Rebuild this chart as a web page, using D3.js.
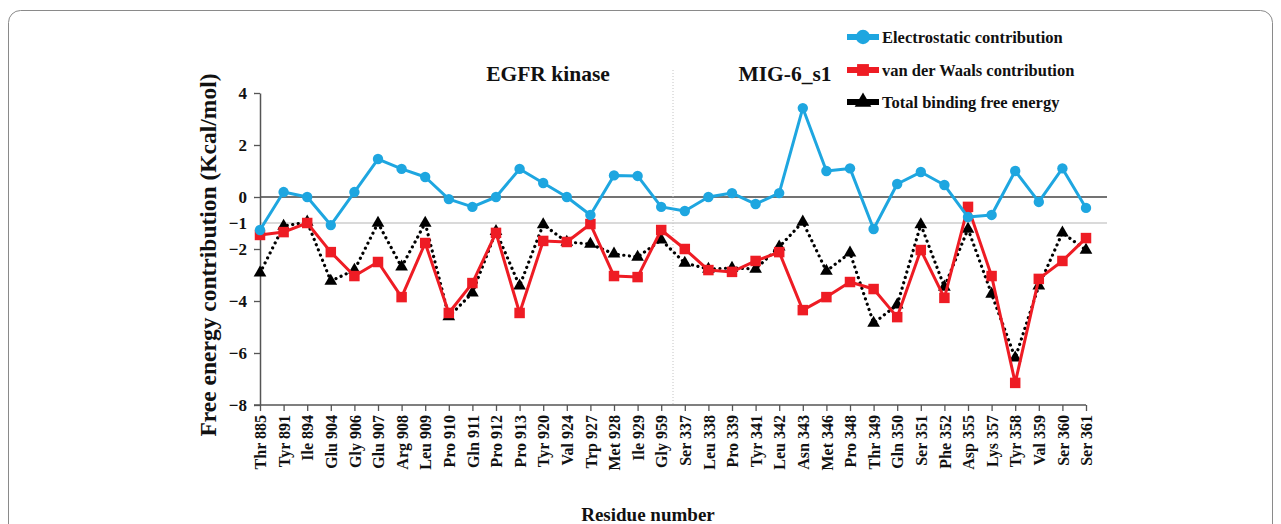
<!DOCTYPE html>
<html>
<head>
<meta charset="utf-8">
<script src="https://cdn.jsdelivr.net/npm/d3@7"></script>
<style>
  html, body { margin: 0; padding: 0; background: #fff; }
  svg { display: block; }
  text { font-family: "Liberation Serif", "Times New Roman", serif; font-weight: bold; fill: #111; }
</style>
</head>
<body>
<svg id="chart" width="1281" height="524"></svg>
<script>
// Residues: EGFR kinase side, then MIG-6_s1 side
const residues = [
  "Thr 885", "Tyr 891", "Ile 894", "Glu 904", "Gly 906", "Glu 907", "Arg 908", "Leu 909", "Pro 910",
  "Gln 911", "Pro 912", "Pro 913", "Tyr 920", "Val 924", "Trp 927", "Met 928", "Ile 929", "Gly 959",
  "Ser 337", "Leu 338", "Pro 339", "Tyr 341", "Leu 342", "Asn 343", "Met 346", "Pro 348", "Thr 349",
  "Gln 350", "Ser 351", "Phe 352", "Asp 355", "Lys 357", "Tyr 358", "Val 359", "Ser 360", "Ser 361"
];

// Per-residue energy terms (kcal/mol)
const electrostatic = [
  -1.27, 0.19, 0.0, -1.08, 0.19, 1.46, 1.08, 0.77, -0.08,
  -0.38, 0.0, 1.08, 0.54, 0.0, -0.69, 0.83, 0.81, -0.38,
  -0.54, 0.0, 0.15, -0.27, 0.15, 3.42, 1.0, 1.1, -1.23,
  0.5, 0.96, 0.46, -0.77, -0.69, 1.0, -0.19, 1.1, -0.42
];
const vanDerWaals = [
  -1.46, -1.35, -1.0, -2.12, -3.04, -2.5, -3.85, -1.77, -4.46,
  -3.31, -1.38, -4.46, -1.69, -1.73, -1.04, -3.04, -3.08, -1.27,
  -2.0, -2.81, -2.88, -2.46, -2.12, -4.35, -3.85, -3.27, -3.54,
  -4.62, -2.04, -3.88, -0.38, -3.04, -7.15, -3.15, -2.46, -1.58
];
const totalBinding = [
  -2.92, -1.12, -0.96, -3.23, -2.81, -1.0, -2.69, -1.0, -4.6,
  -3.69, -1.32, -3.42, -1.06, -1.73, -1.81, -2.19, -2.31, -1.65,
  -2.54, -2.77, -2.73, -2.77, -1.92, -0.96, -2.85, -2.15, -4.85,
  -4.15, -1.06, -3.46, -1.23, -3.73, -6.19, -3.42, -1.38, -2.04
];

const yTicks = [4, 2, 0, -2, -4, -6, -8];
const extraTick = -1;
const groupTitles = ["EGFR kinase", "MIG-6_s1"];
const legendLabels = ["Electrostatic contribution", "van der Waals contribution", "Total binding free energy"];

const BLUE = "#1EA6E0", RED = "#EE1C24", BLACK = "#000";

const svg = d3.select("#chart");

// outer rounded frame
svg.append("rect")
  .attr("x", 8.5).attr("y", 10.5).attr("width", 1264).attr("height", 540)
  .attr("rx", 12).attr("ry", 12)
  .attr("fill", "none").attr("stroke", "#8a8a8a").attr("stroke-width", 1);

const x = d3.scalePoint().domain(residues).range([260, 1086]);
const y = d3.scaleLinear().domain([-8, 4]).range([405, 93]);
const plotRight = 1107;

// reference lines at 0 and -1
svg.append("line")
  .attr("x1", 260).attr("x2", plotRight).attr("y1", y(0)).attr("y2", y(0))
  .attr("stroke", "#444").attr("stroke-width", 1.3);
svg.append("line")
  .attr("x1", 260).attr("x2", plotRight).attr("y1", y(extraTick)).attr("y2", y(extraTick))
  .attr("stroke", "#b5b5b5").attr("stroke-width", 1.2);

// divider between the two partners
const divX = (x(residues[17]) + x(residues[18])) / 2;
svg.append("line")
  .attr("x1", divX).attr("x2", divX).attr("y1", 70).attr("y2", 405)
  .attr("stroke", "#c4c4c4").attr("stroke-width", 1).attr("stroke-dasharray", "1,2");

// y axis
const yAxis = svg.append("g")
  .attr("transform", "translate(260,0)")
  .call(d3.axisLeft(y).tickValues(yTicks).tickSize(6).tickSizeOuter(0).tickFormat(d3.format("d")));
yAxis.select(".domain").attr("stroke", "#555").attr("stroke-width", 1.5);
yAxis.selectAll(".tick line").attr("stroke", "#555").attr("stroke-width", 1.3);
yAxis.selectAll(".tick text")
  .attr("x", -13).attr("dy", "0.35em")
  .style("font-family", "'Liberation Serif', serif").style("font-weight", "bold")
  .style("font-size", "17px").attr("fill", "#111");
svg.append("text")
  .attr("x", 247).attr("y", y(extraTick)).attr("dy", "0.35em")
  .attr("text-anchor", "end").style("font-size", "17px")
  .text(d3.format("d")(extraTick));

// x axis
const xAxis = svg.append("g")
  .attr("transform", "translate(0,405)")
  .call(d3.axisBottom(x).tickSize(6).tickSizeOuter(0));
xAxis.select(".domain").attr("stroke", "#555").attr("stroke-width", 1.5)
  .attr("d", "M254,0H1086");
xAxis.selectAll(".tick line").attr("stroke", "#555").attr("stroke-width", 1.3);
xAxis.selectAll(".tick text")
  .attr("transform", "rotate(-90)")
  .attr("x", -10).attr("y", 0).attr("dy", "0.35em")
  .attr("text-anchor", "end")
  .style("font-family", "'Liberation Serif', serif").style("font-weight", "bold")
  .style("font-size", "16px").attr("fill", "#111");

// axis titles
svg.append("text")
  .attr("transform", "translate(216,255) rotate(-90)")
  .attr("text-anchor", "middle").style("font-size", "23.5px")
  .text("Free energy contribution (Kcal/mol)");
svg.append("text")
  .attr("x", 648).attr("y", 521)
  .attr("text-anchor", "middle").style("font-size", "19px")
  .text("Residue number");

// group titles
svg.append("text").attr("x", 548).attr("y", 81).attr("text-anchor", "middle")
  .style("font-size", "21.5px").text(groupTitles[0]);
svg.append("text").attr("x", 785).attr("y", 81).attr("text-anchor", "middle")
  .style("font-size", "21.5px").text(groupTitles[1]);

// series
const series = [
  { values: electrostatic, color: BLUE, marker: "circle", dash: null, width: 3 },
  { values: vanDerWaals, color: RED, marker: "square", dash: null, width: 3 },
  { values: totalBinding, color: BLACK, marker: "triangle", dash: "0.1,5.5", width: 3.2 }
];

const line = d3.line()
  .x((d, i) => x(residues[i]))
  .y(d => y(d));

const symbolFor = {
  circle: d3.symbol().type(d3.symbolCircle).size(85),
  square: d3.symbol().type(d3.symbolSquare).size(110),
  triangle: d3.symbol().type(d3.symbolTriangle).size(70)
};

// draw black first so red and blue sit on top of it
[series[2], series[1], series[0]].forEach(s => {
  svg.append("path")
    .datum(s.values)
    .attr("d", line)
    .attr("fill", "none")
    .attr("stroke", s.color)
    .attr("stroke-width", s.width)
    .attr("stroke-linecap", s.dash ? "round" : "butt")
    .attr("stroke-linejoin", "round")
    .attr("stroke-dasharray", s.dash);
  svg.append("g").selectAll("path")
    .data(s.values)
    .join("path")
    .attr("transform", (d, i) => `translate(${x(residues[i])},${y(d)})`)
    .attr("d", symbolFor[s.marker])
    .attr("fill", s.color);
});

// legend
const legendY = [37, 70, 102];
series.forEach((s, i) => {
  const g = svg.append("g").attr("transform", `translate(847,${legendY[i]})`);
  g.append("line").attr("x1", 0).attr("x2", 32).attr("y1", 0).attr("y2", 0)
    .attr("stroke", s.color).attr("stroke-width", 6);
  g.append("path").attr("transform", "translate(16,0)")
    .attr("d", d3.symbol().type(
      s.marker === "circle" ? d3.symbolCircle : s.marker === "square" ? d3.symbolSquare : d3.symbolTriangle
    ).size(s.marker === "circle" ? 160 : s.marker === "square" ? 140 : 120))
    .attr("fill", s.color);
  g.append("text").attr("x", 35).attr("y", 0).attr("dy", "0.35em")
    .style("font-size", "16.5px").text(legendLabels[i]);
});
</script>
</body>
</html>
